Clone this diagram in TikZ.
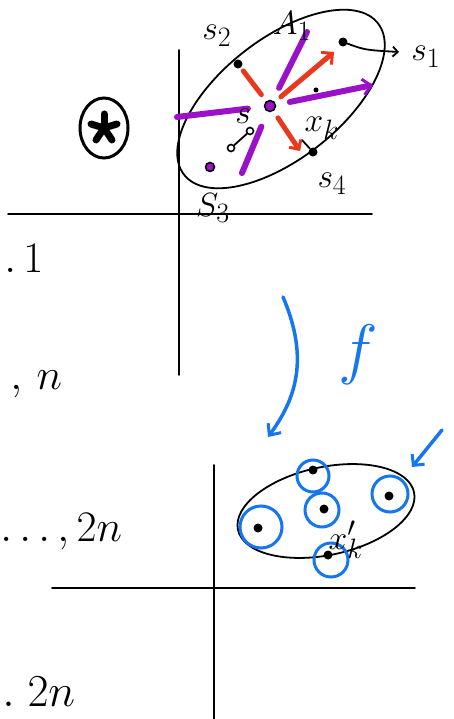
\documentclass[tikz,border=0pt]{standalone}
\usetikzlibrary{arrows.meta,shapes.geometric}
\definecolor{purpC}{HTML}{9B11C8}
\definecolor{redC}{HTML}{E8391F}
\definecolor{blueC}{HTML}{1675F0}
\begin{document}
\begin{tikzpicture}[x=1pt,y=-1pt,
  ink/.style={line width=1.8pt,line cap=round},
  dot/.style={circle,fill=black,inner sep=0pt,minimum size=9pt},
  tdot/.style={circle,fill=black,inner sep=0pt,minimum size=5pt},
  ring/.style={circle,draw=black,line width=1.6pt,inner sep=0pt,minimum size=7pt},
  pdot/.style={circle,fill=purpC,draw=black,line width=1.5pt,inner sep=0pt,minimum size=11pt},
  lbl/.style={font=\Huge,scale=1.35,inner sep=0pt},
  big/.style={font=\Huge,scale=1.75,inner sep=0pt},
  purpline/.style={line width=6pt,draw=purpC,line cap=round},
  redline/.style={line width=5pt,draw=redC,line cap=round},
  blueline/.style={draw=blueC,line width=3.5pt,line cap=round},
  bring/.style={draw=blueC,line width=3pt},
  arm/.style={line width=7pt,line cap=round}
]
\useasboundingbox (0,0) rectangle (454,719);
\fill[white] (0,0) rectangle (454,719);

% ---------- top axes ----------
\coordinate (tv1) at (179,50);  \coordinate (tv2) at (179,375);
\coordinate (th1) at (8,214);   \coordinate (th2) at (372,214);
\draw[ink] (tv1) -- (tv2);
\draw[ink] (th1) -- (th2);

% ---------- top ellipse ----------
\draw[ink,rotate around={38:(281,99)}] (281,99) ellipse (123 and 60);

% ---------- points ----------
\node[pdot] (ctr) at (270,106) {};
\node[dot] (s1d) at (343,42) {};
\node[dot] (s2d) at (238,64) {};
\node[pdot,minimum size=9pt] (s3d) at (210,167) {};
\node[dot] (s4d) at (313,152) {};
\node[tdot] (m1) at (316,90) {};
\node[ring] (c1) at (231,148) {};
\node[ring] (c2) at (250,131) {};
\draw[ink] (c1) -- (c2);
\coordinate (xk) at (302,140);
\draw[ink] (xk) -- (s4d);

% ---------- purple lines ----------
\coordinate (pa) at (177,117); \coordinate (pb) at (373,85);
\coordinate (pc) at (242,173); \coordinate (pd) at (307,32);
\draw[purpline,shorten >=16pt] (pa) -- (ctr);
\draw[purpline,shorten <=14pt,-{Straight Barb[length=8pt,width=16pt,line width=3pt]}] (ctr) -- (pb);
\draw[purpline,shorten >=16pt] (pc) -- (ctr);
\draw[purpline,shorten <=14pt] (ctr) -- (pd);

% ---------- red arrows ----------
\coordinate (r1) at (334,52); \coordinate (r2) at (300,151);
\draw[redline,shorten <=8pt,shorten >=4pt] (ctr) -- (s2d);
\draw[redline,shorten <=8pt,-{Straight Barb[length=8pt,width=16pt,line width=3pt]}] (ctr) -- (r1);
\draw[redline,shorten <=8pt,-{Straight Barb[length=7pt,width=14pt,line width=3pt]}] (ctr) -- (r2);

% ---------- labels top ----------
\coordinate (s1t) at (399,52);
\draw[ink,-{Straight Barb[length=5pt,width=10pt,line width=1.8pt]}] (s1d) .. controls (365,50) .. (s1t);
\node[lbl,anchor=west] (s1l) at (411,57) {$s_1$};
\node[lbl] (s2l) at (217,36) {$s_2$};
\node[lbl] (a1l) at (292,26) {$A_1$};
\node[lbl] (sl) at (243,116) {$s$};
\node[lbl] (xkl) at (322,128) {$x_k$};
\node[lbl] (s4l) at (332,184) {$s_4$};
\node[lbl] (s3l) at (213,208) {$S_3$};

% ---------- circled asterisk ----------
\node[draw,ellipse,line width=3pt,minimum width=48pt,minimum height=60pt,inner sep=0pt] (star) at (104,128) {};
\coordinate (sc) at (104,128);
\draw[arm] (sc) -- (104,114);
\draw[arm] (sc) -- (117,124);
\draw[arm] (sc) -- (112,140);
\draw[arm] (sc) -- (96,140);
\draw[arm] (sc) -- (91,124);

% ---------- left texts ----------
\node[big,anchor=west] (t1) at (4,258) {$.\,1$};
\node[big,anchor=west] (t2) at (10,384) {$,\,n$};
\node[big,anchor=west] (t3) at (0,532) {$\ldots,2n$};
\node[big,scale=1.05,anchor=west] (t4) at (2,692) {$.\;2n$};

% ---------- f arrow ----------
\coordinate (f1) at (283,297); \coordinate (f2) at (268,437);
\draw[blueline,-{Straight Barb[length=9pt,width=16pt,line width=3pt]}] (f1) .. controls (310,360) and (295,400) .. (f2);
\node[font=\Huge,scale=2.7,text=blueC] (fl) at (358,355) {$f$};
\coordinate (g1) at (442,430); \coordinate (g2) at (412,467);
\draw[blueline,-{Straight Barb[length=8pt,width=16pt,line width=3pt]}] (g1) -- (g2);

% ---------- bottom axes ----------
\coordinate (bv1) at (214,465); \coordinate (bv2) at (214,719);
\coordinate (bh1) at (52,588);  \coordinate (bh2) at (415,588);
\draw[ink] (bv1) -- (bv2);
\draw[ink] (bh1) -- (bh2);

% ---------- bottom ellipse ----------
\draw[ink,rotate around={12:(326,511)}] (326,511) ellipse (90 and 44);
\node[dot] (b1) at (313,470) {};
\node[dot] (b2) at (389,496) {};
\node[dot] (b3) at (258,528) {};
\node[dot] (b4) at (324,509) {};
\node[dot] (b5) at (328,555) {};
\draw[bring] (313,476) circle (16);
\draw[bring] (390,494) circle (18);
\draw[bring] (261,527) circle (21);
\draw[bring] (322,510) circle (17);
\draw[bring] (331,560) circle (17);
\node[lbl] (xkp) at (346,540) {$x'_k$};
\end{tikzpicture}
\end{document}
